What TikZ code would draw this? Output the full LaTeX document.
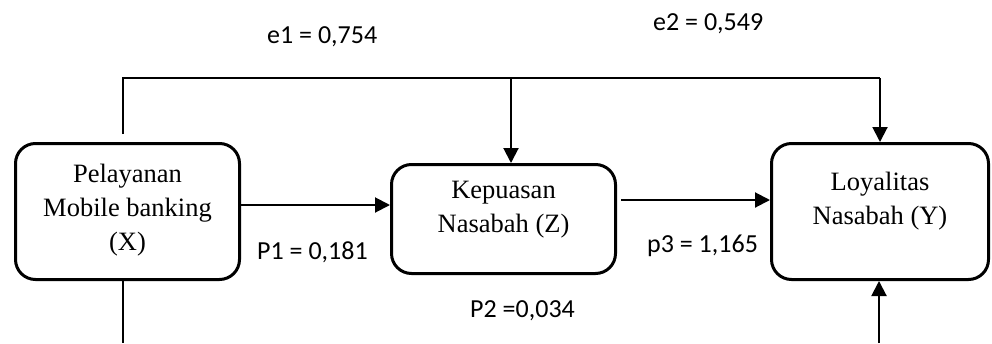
\documentclass[tikz,border=0pt]{standalone}
\usepackage{fontspec}
\setmainfont{Liberation Serif}
\newfontfamily\lblfont{Carlito}
\usetikzlibrary{shapes, arrows, arrows.meta}

\begin{document}
\begin{tikzpicture}[x=1pt, y=-1pt,
        varbox/.style={draw, line width=3pt, rounded corners=20pt},
        vartext/.style={align=center, inner sep=0pt, font=\fontsize{26.5}{34}\selectfont},
        coef/.style={anchor=base west, inner sep=0pt, font=\lblfont\fontsize{26}{30}\selectfont},
        arr/.style={line width=2pt, -{Triangle[length=15pt, width=15pt]}},
        ln/.style={line width=1.5pt}]
            \useasboundingbox (0, 0) rectangle (992, 343);

            \node[varbox, minimum width=224pt, minimum height=136pt] (n0) at (127.5, 211.5) {};
            \node[varbox, minimum width=224pt, minimum height=109pt] (n1) at (503.5, 219) {};
            \node[varbox, minimum width=217pt, minimum height=136pt] (n2) at (880, 211.5) {};
            \node[vartext] (t0) at (127.5, 210) {Pelayanan\\Mobile banking\\(X)};
            \node[vartext] (t1) at (503.5, 210) {Kepuasan\\Nasabah (Z)};
            \node[vartext] (t2) at (880, 201) {Loyalitas\\Nasabah (Y)};

            \coordinate (c0) at (123, 134);
            \coordinate (c1) at (123, 78);
            \coordinate (c2) at (511, 78);
            \coordinate (c3) at (123, 343);
            \coordinate (c4) at (879, 343);

            \draw[ln] (c0) -- (c1) -- (c1 -| n2);
            \draw[arr] (c1 -| n2) -- (n2);
            \draw[arr] (c2) -- (c2 |- n1.north);
            \draw[ln] (c3 |- n0.south) -- (c3);
            \draw[arr] (c4) -- (c4 |- n2.south);

            \draw[arr] ([yshift=6.5pt]n0.east) -- ([yshift=14pt]n1.west);
            \draw[arr] ([xshift=4pt, yshift=19pt]n1.east) -- ([yshift=11.5pt]n2.west);

            \node[coef] (l0) at (267, 43) {e1 = 0,754};
            \node[coef] (l1) at (653, 30) {e2 = 0,549};
            \node[coef] (l2) at (257, 259) {P1 = 0,181};
            \node[coef] (l3) at (470, 317) {P2 =0,034};
            \node[coef] (l4) at (647, 252) {p3 = 1,165};
\end{tikzpicture}
\end{document}
